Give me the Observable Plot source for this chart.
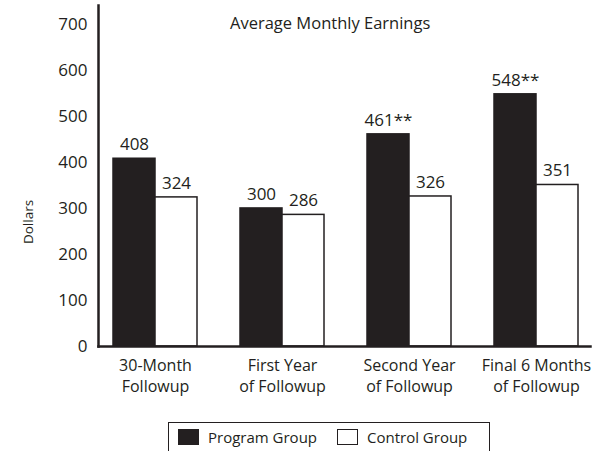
<!DOCTYPE html>
<html>
<head>
<meta charset="utf-8">
<script src="https://cdn.jsdelivr.net/npm/d3@7"></script>
<script src="https://cdn.jsdelivr.net/npm/@observablehq/plot@0.6"></script>
<style>
  html, body { margin: 0; padding: 0; background: #fff; }
  #wrap { position: relative; width: 600px; height: 451px; overflow: hidden; font-family: "Open Sans", sans-serif; color: #231f20; }
  #title { position: absolute; left: 230px; width: 200px; top: 12px; line-height: 22px; text-align: center; font-size: 16.5px; white-space: nowrap; }
  #legend { position: absolute; left: 168px; top: 422px; width: 322px; height: 40px; border: 1px solid #231f20; box-sizing: border-box; font-size: 15px; }
  .item { position: absolute; top: 4px; display: flex; align-items: center; }
  .sw { width: 21px; height: 16px; box-sizing: border-box; border: 1px solid #231f20; margin-right: 9px; }
</style>
</head>
<body>
<div id="wrap">
  <div id="chart"></div>
  <div id="title"></div>
  <div id="legend"></div>
</div>
<script>
const title = "Average Monthly Earnings";
const yLabel = "Dollars";
const groups = ["30-Month\nFollowup", "First Year\nof Followup", "Second Year\nof Followup", "Final 6 Months\nof Followup"];
const series = ["Program Group", "Control Group"];
const programValues = [408, 300, 461, 548];
const controlValues = [324, 286, 326, 351];
const programMarks = ["", "", "**", "**"];
const controlMarks = ["", "", "", ""];
const yTicks = [0, 100, 200, 300, 400, 500, 600, 700];
const seriesColors = ["#231f20", "#ffffff"];

const ink = "#231f20";
const data = [];
groups.forEach((g, i) => {
  data.push({group: g, series: series[0], value: programValues[i], label: programValues[i] + programMarks[i]});
  data.push({group: g, series: series[1], value: controlValues[i], label: controlValues[i] + controlMarks[i]});
});

document.getElementById("title").textContent = title;

const chart = Plot.plot({
  width: 600,
  height: 410,
  marginLeft: 96,
  marginRight: 10,
  marginTop: 5,
  marginBottom: 64,
  style: {fontFamily: "Open Sans, sans-serif", color: ink, background: "transparent"},
  fx: {domain: groups, paddingInner: 0.336, paddingOuter: 0.1, align: 0.6, label: null},
  x: {domain: series, padding: 0, axis: null},
  y: {domain: [0, 741], label: null},
  color: {domain: series, range: seriesColors},
  marks: [
    Plot.barY(data, {fx: "group", x: "series", y: "value", fill: "series", stroke: ink, strokeWidth: 1.5}),
    Plot.text(data, {fx: "group", x: "series", y: "value", text: "label", dy: -14, fontSize: 17, fill: ink}),
    Plot.frame({anchor: "bottom", facet: "super", insetLeft: -15, insetRight: -12, stroke: ink, strokeWidth: 2.5}),
    Plot.frame({anchor: "left", facet: "super", dx: -15, stroke: ink, strokeWidth: 2.5}),
    Plot.axisY({ticks: yTicks, tickSize: 0, tickPadding: 26, fontSize: 17, label: null, fill: ink}),
    Plot.text([yLabel], {facet: "super", frameAnchor: "left", textAnchor: "middle", rotate: -90, dx: -85, dy: 46, fontSize: 13.5, fill: ink}),
    Plot.axisFx({anchor: "bottom", tickSize: 0, tickPadding: 10, fontSize: 16, lineHeight: 1.3, label: null, fill: ink})
  ]
});
document.getElementById("chart").appendChild(chart);

const legend = document.getElementById("legend");
const positions = [9, 168];
series.forEach((s, i) => {
  const it = document.createElement("div");
  it.className = "item";
  it.style.left = positions[i] + "px";
  const sw = document.createElement("div");
  sw.className = "sw";
  sw.style.background = seriesColors[i];
  const t = document.createElement("span");
  t.textContent = s;
  it.appendChild(sw); it.appendChild(t);
  legend.appendChild(it);
});
</script>
</body>
</html>
